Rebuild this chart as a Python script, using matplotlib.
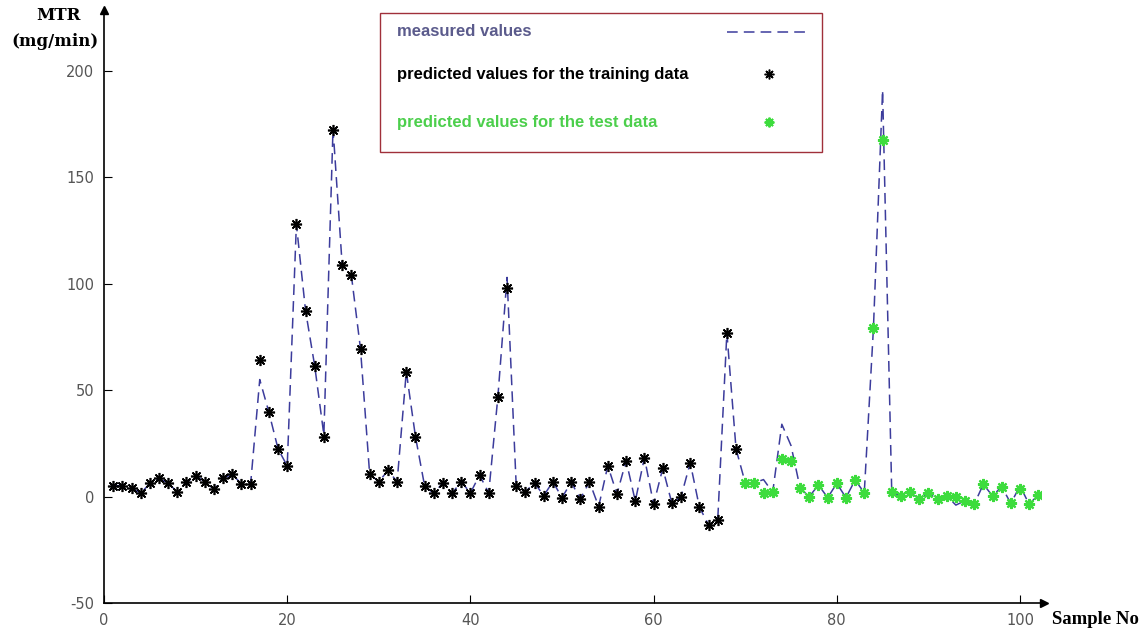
import numpy as np
import matplotlib
matplotlib.use("Agg")
import matplotlib.pyplot as plt
from matplotlib.lines import Line2D
from matplotlib.patches import Rectangle

plt.rcParams['axes.unicode_minus'] = False

# sample numbers 1..102, first 69 are training, the rest test
samples = np.arange(1, 103)
n_train = 69

predicted = [
    5.1, 5.2, 4.2, 1.5, 6.2, 8.6, 6.2, 2.3, 6.7, 9.8,
    7.0, 3.4, 8.6, 10.5, 5.9, 5.8, 64.0, 39.6, 22.4, 14.4,
    128.0, 87.4, 61.4, 27.9, 172.3, 108.8, 104.1, 69.4, 10.5, 7.0,
    12.3, 7.0, 58.7, 28.2, 5.0, 1.5, 6.5, 1.6, 7.0, 1.7,
    10.1, 1.7, 47.0, 97.9, 5.1, 2.3, 6.5, 0.4, 7.0, -0.5,
    6.8, -1.1, 7.0, -4.7, 14.5, 1.2, 16.9, -2.1, 18.3, -3.6,
    13.3, -3.2, 0.0, 15.9, -5.0, -13.2, -11.0, 77.0, 22.4, 6.5,
    6.5, 1.5, 2.0, 17.5, 16.7, 3.9, 0.0, 5.5, -0.5, 6.2,
    -0.5, 7.8, 1.8, 79.1, 167.5, 2.0, 0.4, 2.0, -1.1, 1.5,
    -1.1, 0.4, -0.3, -1.9, -3.6, 5.8, 0.3, 4.7, -3.2, 3.4,
    -3.6, 0.8,
]

measured = [
    5.1, 5.2, 4.2, 1.5, 6.2, 8.6, 6.2, 2.3, 6.7, 9.8,
    7.0, 3.4, 8.6, 10.5, 5.9, 5.8, 55.0, 39.6, 22.4, 14.4,
    128.0, 87.4, 61.4, 29.0, 173.0, 108.8, 104.1, 69.4, 10.5, 7.0,
    12.3, 7.0, 58.7, 28.2, 5.0, 1.5, 6.5, 1.6, 7.0, 1.7,
    10.1, 1.7, 47.0, 103.0, 5.1, 2.3, 6.5, 0.4, 7.0, -0.5,
    6.8, -1.1, 7.0, -4.7, 14.5, 1.2, 16.9, -2.1, 18.3, -3.6,
    13.3, -3.2, 0.0, 15.9, -5.0, -13.2, -11.0, 77.0, 22.4, 6.5,
    6.5, 8.0, 2.0, 34.0, 24.0, 3.9, 0.0, 5.5, -0.5, 6.2,
    -0.5, 7.8, 1.8, 79.1, 191.0, 2.0, 0.4, 2.0, -1.1, 1.5,
    -1.1, 0.4, -4.0, -1.9, -3.6, 5.8, 0.3, 4.7, -3.2, 5.0,
    -3.6, 0.8,
]

y_ticks = [-50, 0, 50, 100, 150, 200]
x_ticks = [0, 20, 40, 60, 80, 100]
labels = ['measured values', 'predicted values for the training data',
          'predicted values for the test data']
label_colors = ['#5b5b8c', 'black', '#4ccf4c']

line_color = '#3c3c9c'
green = '#3ddc3d'
star = (8, 2, 0)

W, H = 1142, 634


def px(x, y):
    # pixel position -> figure fraction
    return x / W, 1 - y / H


fig = plt.figure(figsize=(W / 100, H / 100), dpi=100)
ax = fig.add_axes([0.0911, 0.0489, 0.8205, 0.9331])

ax.plot(samples, measured, color=line_color, lw=1.1, dashes=(7, 4))
ax.plot(samples[:n_train], predicted[:n_train], ls='none', marker=star,
        ms=8, mew=1.2, color='black')
ax.plot(samples[n_train:], predicted[n_train:], ls='none', marker=star,
        ms=8, mew=1.6, color=green)

ax.set_xlim(0, 102.3)
ax.set_ylim(-50, 228)

for s in ['top', 'right']:
    ax.spines[s].set_visible(False)
for s in ['left', 'bottom']:
    ax.spines[s].set_linewidth(1.2)

# arrow heads on the axes
ax.plot(1.003, 0, marker='>', ms=6, color='black', transform=ax.transAxes, clip_on=False)
ax.plot(0, 1.003, marker='^', ms=6, color='black', transform=ax.transAxes, clip_on=False)

ax.set_xticks(x_ticks)
ax.set_yticks(y_ticks)
ax.tick_params(direction='in', length=6, width=0.8, colors='black',
               labelcolor='#555555', labelsize=10.5, pad=7)

fig.text(*px(58, 15), 'MTR', ha='center', va='center', fontsize=12,
         fontweight='bold', family='DejaVu Serif')
fig.text(*px(55, 41), '(mg/min)', ha='center', va='center', fontsize=12,
         fontweight='bold', family='DejaVu Serif')
fig.text(*px(1095, 620), 'Sample No', ha='center', va='center', fontsize=13.5,
         fontweight='bold', family='Liberation Serif')

# legend box drawn by hand: text on the left, symbols on the right
x0, y0 = px(380, 152)
x1, y1 = px(822, 13)
fig.patches.append(Rectangle((x0, y0), x1 - x0, y1 - y0, transform=fig.transFigure,
                             fill=False, edgecolor='#a0303a', lw=1.0))
rows_y = [32, 74, 122]
for lab, col, ry in zip(labels, label_colors, rows_y):
    fig.text(*px(397, ry), lab, color=col, ha='left', va='center',
             fontsize=12, fontweight='bold', family='Liberation Sans')

hx0, hy = px(727, rows_y[0])
hx1, _ = px(808, rows_y[0])
fig.lines.append(Line2D([hx0, hx1], [hy, hy], transform=fig.transFigure,
                        color=line_color, lw=1.1, dashes=(7, 4)))
for ry, col, mew in [(rows_y[1], 'black', 1.1), (rows_y[2], green, 1.4)]:
    mx, my = px(769, ry)
    fig.lines.append(Line2D([mx], [my], transform=fig.transFigure, ls='none',
                            marker=star, ms=7, mew=mew, color=col))

fig.savefig('out.png', dpi=100)
